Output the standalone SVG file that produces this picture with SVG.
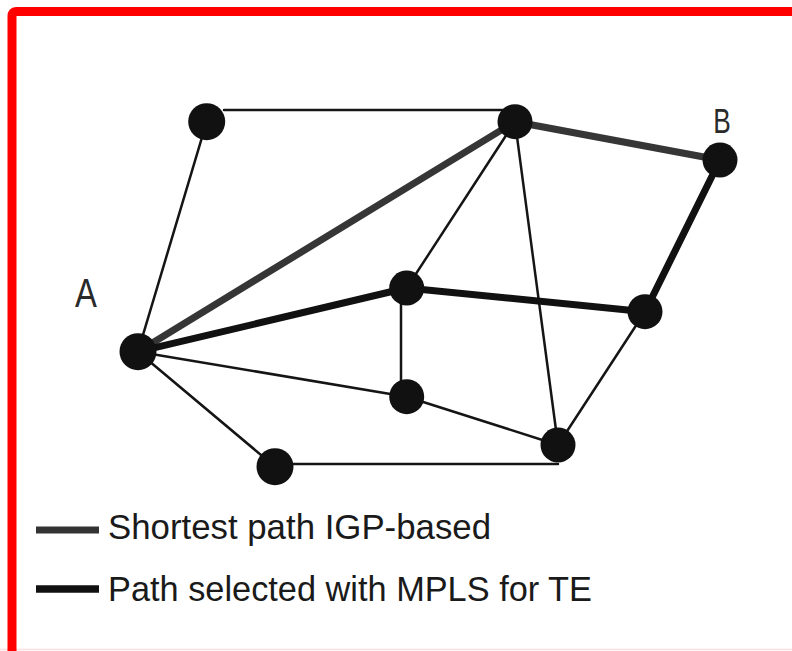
<svg xmlns="http://www.w3.org/2000/svg" width="792" height="651" viewBox="0 0 792 651">
  <style>
    .thin { stroke: #151515; stroke-width: 2.5; fill: none; stroke-linecap: round; }
    .igp { stroke: #363636; stroke-width: 7; fill: none; stroke-linecap: round; }
    .te { stroke: #111111; stroke-width: 7; fill: none; stroke-linecap: round; }
    .node { fill: #111111; }
    .lbl { font-family: "Liberation Sans", Arial, sans-serif; fill: #2a2a2a; }
    .leg { font-family: "Liberation Sans", Arial, sans-serif; font-size: 35px; fill: #1a1a1a; }
  </style>
  <defs>
    <radialGradient id="ng" cx="0.55" cy="0.45" r="0.6">
      <stop offset="0" stop-color="#333333"/>
      <stop offset="0.6" stop-color="#151515"/>
      <stop offset="1" stop-color="#0c0c0c"/>
    </radialGradient>
  </defs>
  <rect x="0" y="0" width="792" height="651" fill="#ffffff"/>
  <g id="frame">
    <line x1="0" y1="649.5" x2="792" y2="649.5" stroke="#ffdede" stroke-width="1.5"/>
    <path d="M12,651 L12,16 Q12,11.5 16,11.5 L792,11.5" fill="none" stroke="#ff0000" stroke-width="9"/>
  </g>
  <g id="connectors">
    <line class="thin" x1="224" y1="110" x2="506" y2="110"/>
    <line class="thin" x1="206.7" y1="121.7" x2="138" y2="351.7"/>
    <line class="thin" x1="515" y1="121.7" x2="406.7" y2="288"/>
    <line class="thin" x1="515" y1="121.7" x2="558" y2="445"/>
    <line class="thin" x1="401" y1="288" x2="401" y2="396.7"/>
    <line class="thin" x1="138" y1="351.7" x2="406.7" y2="396.7"/>
    <line class="thin" x1="406.7" y1="396.7" x2="558" y2="445"/>
    <line class="thin" x1="645" y1="311.7" x2="558" y2="445"/>
    <line class="thin" x1="138" y1="351.7" x2="275" y2="466.7"/>
    <line class="thin" x1="275" y1="464" x2="558" y2="464"/>
    <line class="igp" x1="138" y1="351.7" x2="515" y2="121.7"/>
    <line class="igp" x1="515" y1="121.7" x2="720" y2="160"/>
    <line class="te" x1="138" y1="351.7" x2="406.7" y2="288"/>
    <line class="te" x1="406.7" y1="288" x2="645" y2="311.7"/>
    <line class="te" x1="645" y1="311.7" x2="720" y2="160"/>
  </g>
  <g id="n1"><circle class="node" cx="206.7" cy="121.7" r="18.5" fill="url(#ng)"/></g>
  <g id="n2"><circle class="node" cx="515" cy="121.7" r="17.5" fill="url(#ng)"/></g>
  <g id="nB"><circle class="node" cx="720" cy="160" r="17.5" fill="url(#ng)"/></g>
  <g id="nmid"><circle class="node" cx="406.7" cy="288" r="17.5" fill="url(#ng)"/></g>
  <g id="nright"><circle class="node" cx="645" cy="311.7" r="17.5"/></g>
  <g id="nlow"><circle class="node" cx="406.7" cy="396.7" r="17.5"/></g>
  <g id="nbr"><circle class="node" cx="558" cy="445" r="17.5"/></g>
  <g id="nA"><circle class="node" cx="138" cy="351.7" r="18.5" fill="url(#ng)"/></g>
  <g id="nbl"><circle class="node" cx="275" cy="466.7" r="18.5"/></g>
  <g id="labels">
    <text class="lbl" font-size="40" text-anchor="middle" transform="translate(86,307) scale(0.82,1)">A</text>
    <text class="lbl" font-size="35" text-anchor="middle" transform="translate(722,133) scale(0.75,1)">B</text>
  </g>
  <g id="legend">
    <line x1="36" y1="530" x2="99" y2="530" stroke="#333333" stroke-width="7"/>
    <line x1="36" y1="589" x2="99" y2="589" stroke="#111111" stroke-width="7.5"/>
    <text class="leg" x="108" y="539" textLength="383" lengthAdjust="spacingAndGlyphs">Shortest path IGP-based</text>
    <text class="leg" x="108" y="601" textLength="484" lengthAdjust="spacingAndGlyphs">Path selected with MPLS for TE</text>
  </g>
</svg>
